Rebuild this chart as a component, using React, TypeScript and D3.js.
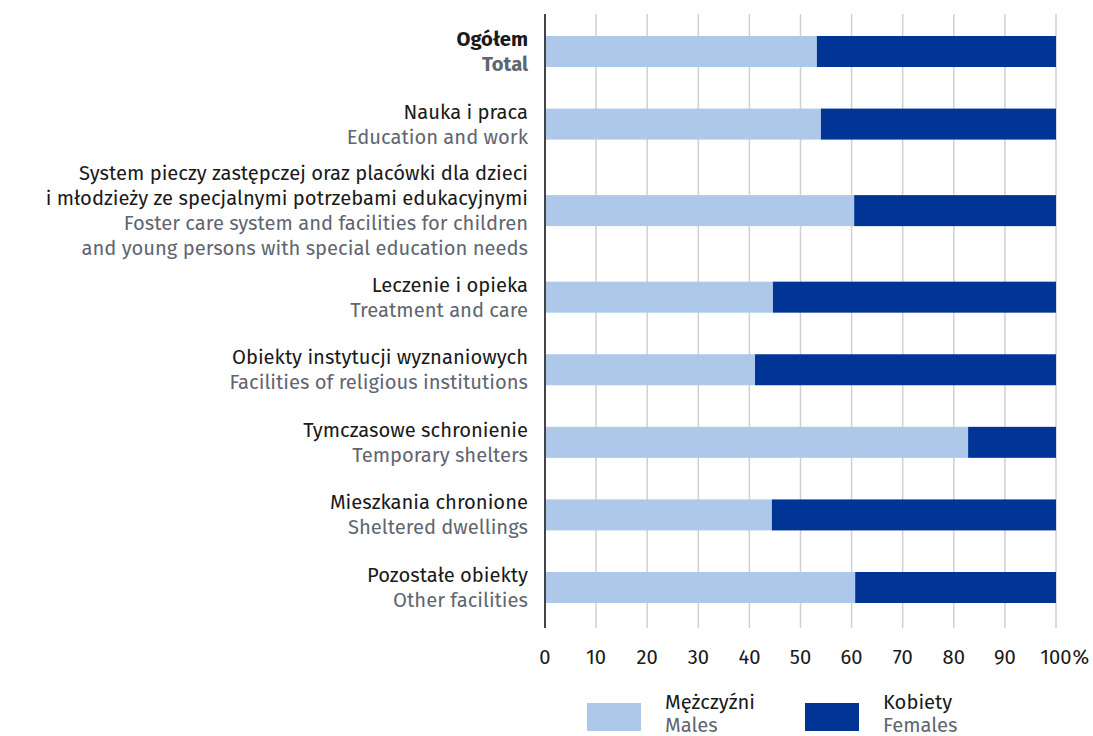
import React from "react";
import * as d3 from "d3";

const categoriesPl: string[][] = [
  ["Ogółem"],
  ["Nauka i praca"],
  ["System pieczy zastępczej oraz placówki dla dzieci", "i młodzieży ze specjalnymi potrzebami edukacyjnymi"],
  ["Leczenie i opieka"],
  ["Obiekty instytucji wyznaniowych"],
  ["Tymczasowe schronienie"],
  ["Mieszkania chronione"],
  ["Pozostałe obiekty"],
];
const categoriesEn: string[][] = [
  ["Total"],
  ["Education and work"],
  ["Foster care system and facilities for children", "and young persons with special education needs"],
  ["Treatment and care"],
  ["Facilities of religious institutions"],
  ["Temporary shelters"],
  ["Sheltered dwellings"],
  ["Other facilities"],
];
const males: number[] = [53.2, 54.0, 60.5, 44.6, 41.1, 82.8, 44.4, 60.7];
const females: number[] = males.map((m) => 100 - m);
const xTicks: number[] = [0, 10, 20, 30, 40, 50, 60, 70, 80, 90, 100];
const legendPl = ["Mężczyźni", "Kobiety"];
const legendEn = ["Males", "Females"];

const COLORS = ["#adc8e8", "#003595"];
const FONT = "'Fira Sans', Roboto, 'Noto Sans', sans-serif";
const TEXT = "#1a1a1a";
const GRAY = "#5f6670";

export default function App() {
  const W = 1093, H = 736;
  const x = d3.scaleLinear().domain([0, 100]).range([545, 1056]);

  // vertical layout weighted by number of label lines
  const units = categoriesPl.map((p, i) => p.length + categoriesEn[i].length + 3.2);
  const centersU: number[] = [];
  let acc = 0;
  units.forEach((u, i) => {
    if (i > 0) acc += (units[i - 1] + u) / 2;
    centersU.push(acc);
  });
  const y = d3.scaleLinear().domain([0, acc]).range([51.5, 587.5]);
  const barH = 31;
  const lineH = 25;
  const fs = 20.2;

  return (
    <svg width={W} height={H} style={{ display: "block", position: "absolute", left: 0, top: 0 }} fontFamily={FONT}>
      <rect width={W} height={H} fill="#fff" />
      {xTicks.map((t) => (
        <line key={t} x1={x(t)} x2={x(t)} y1={14} y2={628} stroke="#d0d0d0" strokeWidth={1.5} />
      ))}
      {males.map((m, i) => {
        const cy = y(centersU[i]);
        return (
          <g key={i}>
            <rect x={x(0)} y={cy - barH / 2} width={x(m) - x(0)} height={barH} fill={COLORS[0]} />
            <rect x={x(m)} y={cy - barH / 2} width={x(m + females[i]) - x(m)} height={barH} fill={COLORS[1]} />
          </g>
        );
      })}
      <line x1={x(0)} x2={x(0)} y1={14} y2={628} stroke="#444" strokeWidth={2} />
      {categoriesPl.map((pl, i) => {
        const lines = [...pl.map((t) => ({ t, en: false })), ...categoriesEn[i].map((t) => ({ t, en: true }))];
        const cy = y(centersU[i]);
        const start = cy - ((lines.length - 1) / 2) * lineH;
        return (
          <g key={i}>
            {lines.map((l, j) => (
              <text
                key={j}
                x={528}
                y={start + j * lineH}
                dy="0.35em"
                textAnchor="end"
                fontSize={fs}
                fontWeight={i === 0 ? 700 : 400}
                fill={l.en ? GRAY : TEXT}
              >
                {l.t}
              </text>
            ))}
          </g>
        );
      })}
      {xTicks.map((t) => (
        <g key={t}>
          <text x={x(t)} y={657} dy="0.35em" textAnchor="middle" fontSize={fs} fill={TEXT}>
            {t}
          </text>
          {t === 100 && (
            <text x={x(t) + 16.5} y={657} dy="0.35em" textAnchor="start" fontSize={fs} fill={TEXT}>
              %
            </text>
          )}
        </g>
      ))}
      {legendPl.map((l, i) => {
        const lx = [587, 805][i];
        return (
          <g key={i}>
            <rect x={lx} y={703} width={54} height={28} fill={COLORS[i]} />
            <text x={lx + 78} y={702} dy="0.35em" fontSize={fs} fill={TEXT}>{l}</text>
            <text x={lx + 78} y={725} dy="0.35em" fontSize={fs} fill={GRAY}>{legendEn[i]}</text>
          </g>
        );
      })}
    </svg>
  );
}
